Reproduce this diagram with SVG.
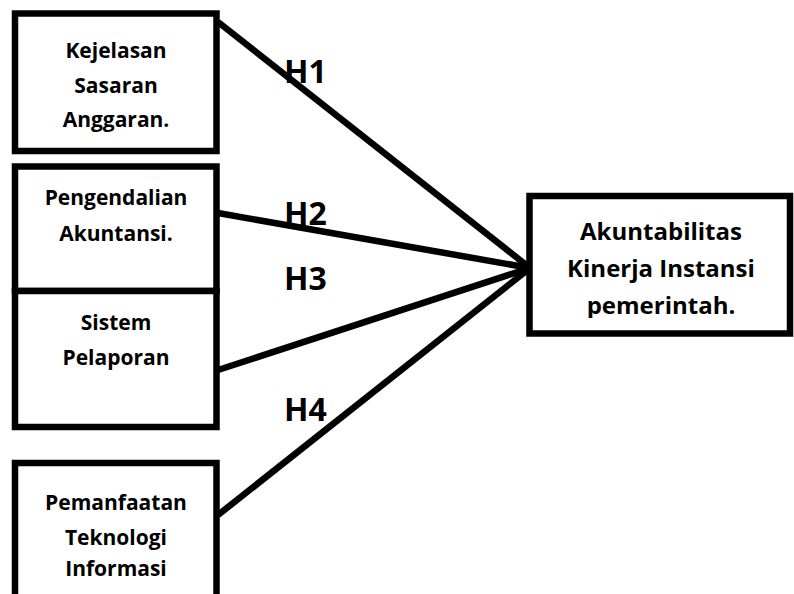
<svg xmlns="http://www.w3.org/2000/svg" width="794" height="594" viewBox="0 0 794 594">
<style>
.box{fill:#fff;stroke:#000;stroke-width:6.5}
.t{font-family:"Open Sans","Liberation Sans",sans-serif;font-weight:700;font-size:21px;text-anchor:middle;fill:#000}
.tr{font-size:24px}
.h{font-family:"Open Sans","Liberation Sans",sans-serif;font-weight:700;font-size:32px;fill:#000}
.c{stroke:#000;stroke-width:6.5;fill:none}
</style>
<defs><clipPath id="cr"><rect x="533" y="199" width="260" height="119"/></clipPath></defs>
<g id="n1"><rect class="box" x="15" y="13.5" width="201.5" height="137.5"/>
<text class="t" x="116" y="58">Kejelasan</text><text class="t" x="116" y="93">Sasaran</text><text class="t" x="116" y="127">Anggaran.</text></g>
<g id="n2"><rect class="box" x="15" y="166.5" width="201.5" height="124.5"/>
<text class="t" x="116" y="205">Pengendalian</text><text class="t" x="116" y="241">Akuntansi.</text></g>
<g id="n3"><rect class="box" x="15" y="291" width="201.5" height="136"/>
<text class="t" x="116" y="330">Sistem</text><text class="t" x="116" y="365">Pelaporan</text></g>
<g id="n4"><rect class="box" x="15" y="463" width="201.5" height="160"/>
<text class="t" x="116" y="510">Pemanfaatan</text><text class="t" x="116" y="545">Teknologi</text><text class="t" x="116" y="576">Informasi</text></g>
<g id="n5"><rect class="box" x="529.5" y="196" width="260.5" height="137.5"/>
<g clip-path="url(#cr)"><text class="t tr" x="661" y="240">Akuntabilitas</text><text class="t tr" x="661" y="277">Kinerja Instansi</text><text class="t tr" x="661" y="314">pemerintah.</text></g></g>
<g id="connectors">
<line class="c" x1="218" y1="22" x2="530" y2="268"/>
<line class="c" x1="218" y1="213" x2="530" y2="268"/>
<line class="c" x1="218" y1="370" x2="530" y2="268"/>
<line class="c" x1="218" y1="515" x2="530" y2="268"/>
</g>
<g id="labels">
<text class="h" x="284" y="83">H1</text>
<text class="h" x="284" y="225">H2</text>
<text class="h" x="284" y="290">H3</text>
<text class="h" x="284" y="421">H4</text>
</g>
</svg>
